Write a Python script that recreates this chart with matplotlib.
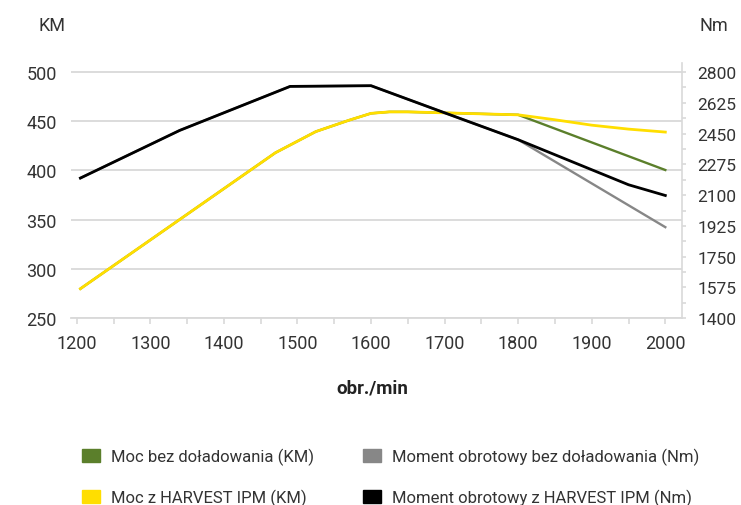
"""
Moc i moment obrotowy silnika w funkcji obrotów (KM / Nm).
"""
import matplotlib
matplotlib.use("Agg")
import matplotlib.pyplot as plt
from matplotlib.patches import Patch
from matplotlib.ticker import MultipleLocator

plt.rcParams["font.family"] = ["Roboto", "DejaVu Sans"]

# ── dane ──
rpm_moc = [1205, 1470, 1525, 1570, 1600, 1625, 1650, 1700, 1750, 1800, 1850, 1900, 1950, 2000]
moc_ipm = [280, 418, 439.5, 451, 458, 459.5, 459.5, 458.5, 457.5, 456.5, 451.5, 446, 442, 439]
rpm_moc_bez = [1205, 1470, 1525, 1570, 1600, 1625, 1650, 1700, 1750, 1800, 2000]
moc_bez = [280, 418, 439.5, 451, 458, 459.5, 459.5, 458.5, 457.5, 456.5, 400.5]

rpm_mom = [1205, 1340, 1490, 1600, 1700, 1800, 1950, 2000]
moment_ipm = [2197, 2468, 2718, 2722, 2568, 2415, 2159, 2098]
rpm_mom_bez = [1205, 1340, 1490, 1600, 1700, 1800, 2000]
moment_bez = [2197, 2468, 2718, 2722, 2568, 2415, 1918]

labels = ["Moc bez doładowania (KM)", "Moc z HARVEST IPM (KM)",
          "Moment obrotowy bez doładowania (Nm)", "Moment obrotowy z HARVEST IPM (Nm)"]

GREEN = "#5b7f2b"
YELLOW = "#ffde00"
GRAY = "#878787"
BLACK = "#000000"
TXT = "#333333"
GRID = "#d9d9d9"

fig = plt.figure(figsize=(7.41, 5.06), dpi=100)
ax = fig.add_axes([0.0954, 0.369, 0.825, 0.5045])
ax2 = ax.twinx()

lw = 2.0
# linie "bez doładowania" pod spodem, trochę cieńsze, żeby nie prześwitywały
ax.plot(rpm_moc_bez, moc_bez, color=GREEN, lw=1.7, solid_joinstyle="round", zorder=2)
ax2.plot(rpm_mom_bez, moment_bez, color=GRAY, lw=1.7, solid_joinstyle="round", zorder=2)
ax.plot(rpm_moc, moc_ipm, color=YELLOW, lw=lw, solid_joinstyle="round", zorder=3)
ax2.plot(rpm_mom, moment_ipm, color=BLACK, lw=lw, solid_joinstyle="round", zorder=4)

# osie
ax.set_xlim(1191.8, 2022.7)
ax.set_ylim(250, 509.1)
ax2.set_ylim(1400, 1400 + 1400 * 259.1 / 250)

ax.set_yticks([250, 300, 350, 400, 450, 500])
ax.yaxis.grid(True, color=GRID, lw=1.3)
ax.set_axisbelow(True)
ax.tick_params(axis="y", length=0, pad=10, labelsize=13, labelcolor=TXT)

ax.set_xticks(range(1200, 2001, 100))
ax.xaxis.set_minor_locator(MultipleLocator(50))
ax.tick_params(axis="x", which="both", length=4, color=GRID, width=1.2,
               labelsize=13, labelcolor=TXT, pad=7)

ax2.set_yticks([1400 + 175 * i for i in range(9)])
ax2.yaxis.set_minor_locator(MultipleLocator(87.5))
ax2.tick_params(axis="y", which="both", length=3, color=GRID, width=1.2,
                labelsize=12.5, labelcolor=TXT, pad=8)

for a in (ax, ax2):
    for side in ("top", "left", "right", "bottom"):
        a.spines[side].set_visible(False)
ax2.spines["right"].set_visible(True)
ax2.spines["right"].set_color(GRID)
ax2.spines["right"].set_linewidth(1.2)
ax.spines["bottom"].set_visible(True)
ax.spines["bottom"].set_color(GRID)
ax.spines["bottom"].set_linewidth(1.3)

fig.text(52 / 741, 1 - 26 / 506, "KM", ha="center", va="center", fontsize=13, color=TXT)
fig.text(714 / 741, 1 - 26 / 506, "Nm", ha="center", va="center", fontsize=13, color=TXT)
fig.text(372 / 741, 1 - 389 / 506, "obr./min", ha="center", va="center",
         fontsize=13.5, fontweight="bold", color="#222222")

handles = [Patch(color=GREEN), Patch(color=YELLOW), Patch(color=GRAY), Patch(color=BLACK)]
fig.legend(handles, labels, ncol=2, loc="upper left",
           bbox_to_anchor=(67 / 741, 1 - 434 / 506), frameon=False,
           fontsize=12, labelcolor=TXT, handlelength=1.1, handleheight=0.8,
           handletextpad=0.65, columnspacing=2.9, labelspacing=1.4)

fig.savefig("out.png", dpi=100)
